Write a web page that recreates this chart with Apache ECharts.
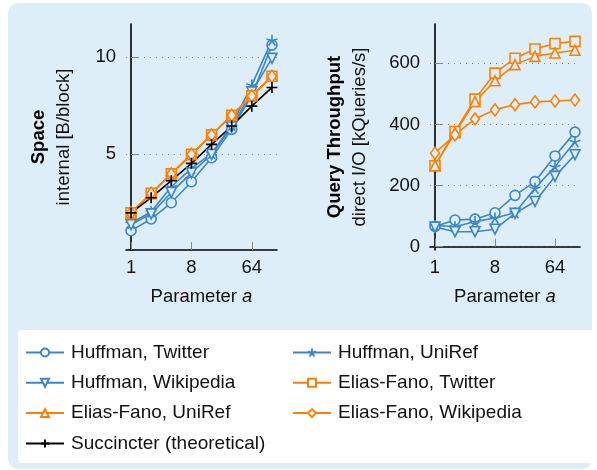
<!DOCTYPE html>
<html>
<head>
<meta charset="utf-8">
<script src="https://cdn.jsdelivr.net/npm/echarts@6/dist/echarts.min.js"></script>
<style>
html,body{margin:0;padding:0;background:#fff;}
#c{width:597px;height:470px;}
</style>
</head>
<body>
<div id="c"></div>
<script>
// Parameter a (x values)
const paramA = [1, 2, 4, 8, 16, 32, 64, 128];
const xTickValues = [1, 8, 64];
const spaceTicks = [5, 10];
const tputTicks = [0, 200, 400, 600];

// Space, internal [B/block]
const spaceHuffTwitter = [1.09, 1.69, 2.52, 3.60, 4.83, 6.28, 8.03, 10.60];
const spaceHuffUniRef  = [1.47, 2.06, 3.34, 4.28, 5.05, 6.50, 8.55, 10.85];
const spaceHuffWiki    = [1.40, 1.95, 3.05, 4.05, 5.00, 6.40, 8.20, 9.92];
const spaceEFTwitter   = [2.0, 3.0, 4.0, 5.0, 6.0, 7.0, 8.0, 9.0];
const spaceEFUniRef    = [2.0, 3.0, 4.0, 5.0, 6.0, 7.0, 8.0, 9.0];
const spaceEFWiki      = [2.0, 3.0, 4.0, 5.0, 6.0, 7.0, 8.0, 9.0];
const spaceSuccincter  = [2.0, 2.78, 3.65, 4.54, 5.51, 6.45, 7.47, 8.43];

// Query throughput, direct I/O [kQueries/s]
const tputHuffTwitter = [66, 87, 90, 111, 168, 213, 297, 375];
const tputHuffUniRef  = [70, 65, 82, 94, 111, 191, 262, 344];
const tputHuffWiki    = [64, 49, 49, 57, 109, 148, 230, 301];
const tputEFTwitter   = [265, 377, 483, 568, 617, 647, 665, 672];
const tputEFUniRef    = [265, 373, 475, 543, 596, 623, 634, 643];
const tputEFWiki      = [306, 366, 418, 448, 465, 474, 477, 480];

const BLUE = '#3d86c6';
const ORANGE = '#ff8000';
const BLACK = '#000';
const BG = '#ddeef9';
const FONT = '"Liberation Sans", Arial, Helvetica, sans-serif';
const FS = 18.5;
const LFS = 19;

const PLUS = 'path://M0,-1L0,1M-1,0L1,0';
const STAR = 'path://M0,0L0,-1M0,0L0.951,-0.309M0,0L0.588,0.809M0,0L-0.588,0.809M0,0L-0.951,-0.309';

const seriesDefs = [
  {name: 'Huffman, Twitter', color: BLUE, symbol: 'circle', size: 10, rot: 0, space: spaceHuffTwitter, tput: tputHuffTwitter},
  {name: 'Huffman, UniRef', color: BLUE, symbol: STAR, size: 11, rot: 0, space: spaceHuffUniRef, tput: tputHuffUniRef},
  {name: 'Huffman, Wikipedia', color: BLUE, symbol: 'triangle', size: 10, rot: 180, space: spaceHuffWiki, tput: tputHuffWiki},
  {name: 'Elias-Fano, Twitter', color: ORANGE, symbol: 'rect', size: 10, rot: 0, space: spaceEFTwitter, tput: tputEFTwitter},
  {name: 'Elias-Fano, UniRef', color: ORANGE, symbol: 'triangle', size: 10, rot: 0, space: spaceEFUniRef, tput: tputEFUniRef},
  {name: 'Elias-Fano, Wikipedia', color: ORANGE, symbol: 'diamond', size: [9, 12], rot: 0, space: spaceEFWiki, tput: tputEFWiki},
  {name: 'Succincter (theoretical)', color: BLACK, symbol: PLUS, size: 11, rot: 0, space: spaceSuccincter, tput: null}
];

function mkSeries(def, values, gi) {
  return {
    type: 'line',
    name: def.name,
    xAxisIndex: gi, yAxisIndex: gi,
    data: paramA.map((a, i) => [Math.log2(a), values[i]]),
    symbol: def.symbol,
    symbolSize: def.size,
    symbolRotate: def.rot,
    showAllSymbol: true,
    lineStyle: {color: def.color, width: 1.6},
    itemStyle: {color: BG, borderColor: def.color, borderWidth: 1.6},
    emphasis: {disabled: true},
    z: 2
  };
}

const series = [];
seriesDefs.forEach(d => { series.push(mkSeries(d, d.space, 0)); });
seriesDefs.forEach(d => { if (d.tput) series.push(mkSeries(d, d.tput, 1)); });

function xAxis(gi) {
  return {
    type: 'value', gridIndex: gi,
    min: -0.25, max: 7.25,
    axisLine: {lineStyle: {color: '#000', width: 1.6}},
    axisTick: {inside: true, length: 8, lineStyle: {color: '#888', width: 1}, customValues: xTickValues.map(Math.log2)},
    axisLabel: {customValues: xTickValues.map(Math.log2), formatter: v => String(Math.round(Math.pow(2, v))), color: '#111', fontFamily: FONT, fontSize: FS, margin: 8},
    splitLine: {show: false},
    name: 'Parameter {i|a}',
    nameLocation: 'middle', nameGap: 37,
    nameTextStyle: {color: '#111', fontFamily: FONT, fontSize: FS, rich: {i: {fontStyle: 'italic', fontFamily: FONT, fontSize: FS, color: '#111'}}}
  };
}

function yAxis(gi, min, max, ticks, title, sub, gap) {
  return {
    type: 'value', gridIndex: gi, min: min, max: max,
    axisLine: {show: true, lineStyle: {color: '#000', width: 1.6}},
    axisTick: {show: true, inside: true, length: 8, lineStyle: {color: '#888', width: 1}, customValues: ticks},
    axisLabel: {customValues: ticks, color: '#111', fontFamily: FONT, fontSize: FS, margin: 10},
    splitLine: {show: true, lineStyle: {color: '#888', type: [1, 5], width: 1}},
    name: '{b|' + title + '}\n{n|' + sub + '}',
    nameLocation: 'middle', nameRotate: 90, nameGap: gap,
    nameTextStyle: {rich: {
      b: {fontWeight: 'bold', fontFamily: FONT, fontSize: FS, color: '#000', lineHeight: 25},
      n: {fontFamily: FONT, fontSize: FS, color: '#111', lineHeight: 25}
    }}
  };
}

function legendItems(names) {
  return names.map(n => ({name: n, itemStyle: {color: '#fff'}}));
}
const legendCommon = {
  orient: 'vertical', itemWidth: 38, itemHeight: 10, itemGap: 11.3, padding: 0,
  textStyle: {fontFamily: FONT, fontSize: LFS, color: '#111', padding: [0, 0, 0, 2]},
  selectedMode: false
};

const chart = echarts.init(document.getElementById('c'), null, {renderer: 'canvas'});
chart.setOption({
  animation: false,
  backgroundColor: '#fff',
  graphic: [
    {type: 'rect', z: -100, shape: {x: 8, y: 3, width: 584, height: 466, r: 10}, style: {fill: BG}},
    {type: 'rect', z: -99, shape: {x: 18, y: 330, width: 600, height: 133, r: [4, 0, 0, 4]}, style: {fill: '#fff'}}
  ],
  grid: [
    {left: 126, top: 24, width: 151, height: 226},
    {left: 430, top: 24, width: 150, height: 226}
  ],
  xAxis: [xAxis(0), xAxis(1)],
  yAxis: [
    yAxis(0, 0.1, 11.68, spaceTicks, 'Space', 'internal [B/block]', 50),
    yAxis(1, -11, 729, tputTicks, 'Query Throughput', 'direct I/O [kQueries/s]', 58)
  ],
  legend: [
    Object.assign({}, legendCommon, {left: 25, top: 343, data: legendItems(['Huffman, Twitter', 'Huffman, Wikipedia', 'Elias-Fano, UniRef', 'Succincter (theoretical)'])}),
    Object.assign({}, legendCommon, {left: 292, top: 343, data: legendItems(['Huffman, UniRef', 'Elias-Fano, Twitter', 'Elias-Fano, Wikipedia'])})
  ],
  series: series
});
</script>
</body>
</html>
